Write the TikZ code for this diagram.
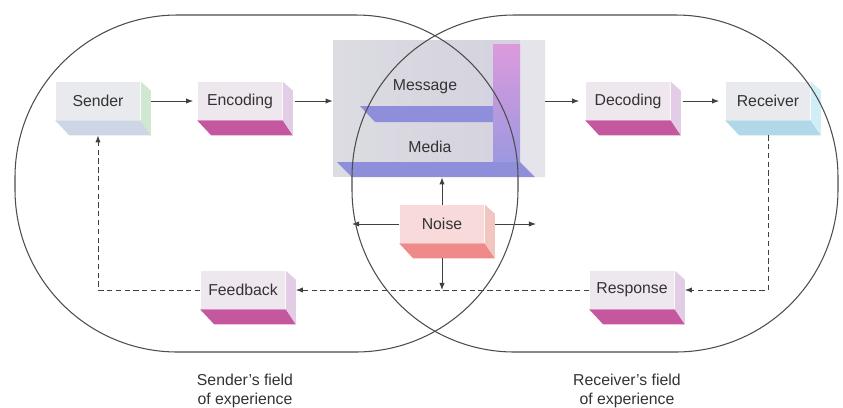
\documentclass[tikz,border=0pt]{standalone}
\usepackage{fontspec}
\setmainfont{Liberation Sans}
\usetikzlibrary{calc,arrows.meta}
\definecolor{sendface}{HTML}{E9EAEE}
\definecolor{sendside}{HTML}{CFE8CF}
\definecolor{sendslab}{HTML}{CCD6E4}
\definecolor{pinkface}{HTML}{EEE7EE}
\definecolor{pinkside}{HTML}{E2CCE6}
\definecolor{pinkslab}{HTML}{C5579F}
\definecolor{recface}{HTML}{E8EAEE}
\definecolor{recside}{HTML}{D0EEF6}
\definecolor{recslab}{HTML}{B0D8E8}
\definecolor{noiseface}{HTML}{F8DADA}
\definecolor{noiseside}{HTML}{F2C6C0}
\definecolor{noiseslab}{HTML}{EE8A8A}
\definecolor{medgray}{HTML}{D2D0DE}
\definecolor{medleft}{HTML}{DCDCE2}
\definecolor{medside}{HTML}{E4E4EA}
\definecolor{bandtop}{HTML}{DC9ADC}
\definecolor{bandbot}{HTML}{9C98E0}
\definecolor{shelf}{HTML}{8E8EDA}
\tikzstyle{face} = [rectangle, minimum width=1.7cm, minimum height=0.76cm, inner sep=0pt, font=\fontsize{9}{10}\selectfont, text=black!80]
\tikzstyle{lbl} = [font=\fontsize{9}{10}\selectfont, text=black!80]
\tikzstyle{flow} = [-{Latex[length=4pt,width=3pt]}, black!75, line width=0.5pt]
\tikzstyle{back} = [flow, dash pattern=on 3pt off 2pt]
\tikzstyle{field} = [draw=black!70, line width=0.6pt, rounded corners=3.25cm]

\begin{document}
\begin{tikzpicture}[x=0.02cm, y=-0.02cm]
            \useasboundingbox (0,0) rectangle (843,407);

            \foreach \n/\x/\y/\txt/\fc/\sd/\sl in {send/98/101/Sender/sendface/sendside/sendslab,
                enc/240/101/Encoding/pinkface/pinkside/pinkslab,
                dec/628/101/Decoding/pinkface/pinkside/pinkslab,
                rec/768/101/Receiver/recface/recside/recslab,
                fb/243/290/Feedback/pinkface/pinkside/pinkslab,
                resp/632/290/Response/pinkface/pinkside/pinkslab,
                noise/442/224/Noise/noiseface/noiseside/noiseslab}
            {
                \node (\n) [face, fill=\fc] at (\x,\y) {\txt};
                \fill[\sl] (\n.south west) -- (\n.south east) -- ++(10,15) -- ($(\n.south west)+(14,15)$) -- cycle;
                \fill[\sd] (\n.north east) -- ++(10,9) -- ($(\n.south east)+(10,15)$) -- (\n.south east) -- cycle;
            }

            \node (medium) [rectangle, minimum width=4.24cm, minimum height=2.74cm, inner sep=0pt, left color=medleft, right color=medgray] at (439,108.5) {};
            \fill[medside] (520,40) -- (545,40) -- (545,177) -- (535,177) -- (520,162) -- cycle;
            \shade[top color=bandtop, bottom color=bandbot] (493,44) rectangle (520,162);
            \fill[shelf] (360,106) -- (493,106) -- (493,122) -- (375,122) -- cycle;
            \fill[shelf] (337,162) -- (520,162) -- (535,177) -- (352,177) -- cycle;
            \node (msg) [lbl] at (425,87) {Message};
            \node (media) [lbl] at (430,147) {Media};

            \draw[flow] ($(send.east)+(10,0)$) -- ($(enc.west)-(4,0)$);
            \draw[flow] ($(enc.east)+(12,0)$) -- (enc.east -| medium.west);
            \draw[flow] (dec.west -| medium.east) -- ($(dec.west)-(6,0)$);
            \draw[flow] ($(dec.east)+(12,0)$) -- ($(rec.west)-(6,0)$);

            \coordinate (nleft) at (352,224);
            \coordinate (nright) at (536,224);
            \draw[flow] (noise.north) -- (noise.north |- medium.south);
            \draw[flow] (noise.west) -- (nleft);
            \draw[flow] ($(noise.east)+(10,0)$) -- (nright);
            \draw[flow] ($(noise.south)+(0,15)$) -- (noise.south |- fb.east);

            \draw[back] ($(rec.south)+(0,15)$) -- (rec.south |- resp.east) -- ($(resp.east)+(10,0)$);
            \draw[back] (resp.west) -- ($(fb.east)+(10,0)$);
            \draw[back] (fb.west) -- (fb.west -| send.south) -- ($(send.south)+(0,15)$);

            \draw[field] (15,15) rectangle (518,352);
            \draw[field] (352,15) rectangle (838,352);

            \node (sfield) [lbl, align=center, font=\fontsize{9}{10.5}\selectfont] at (245,391) {Sender's field\\of experience};
            \node (rfield) [lbl, align=center, font=\fontsize{9}{10.5}\selectfont] at (627,391) {Receiver's field\\of experience};
        \end{tikzpicture}
\end{document}
